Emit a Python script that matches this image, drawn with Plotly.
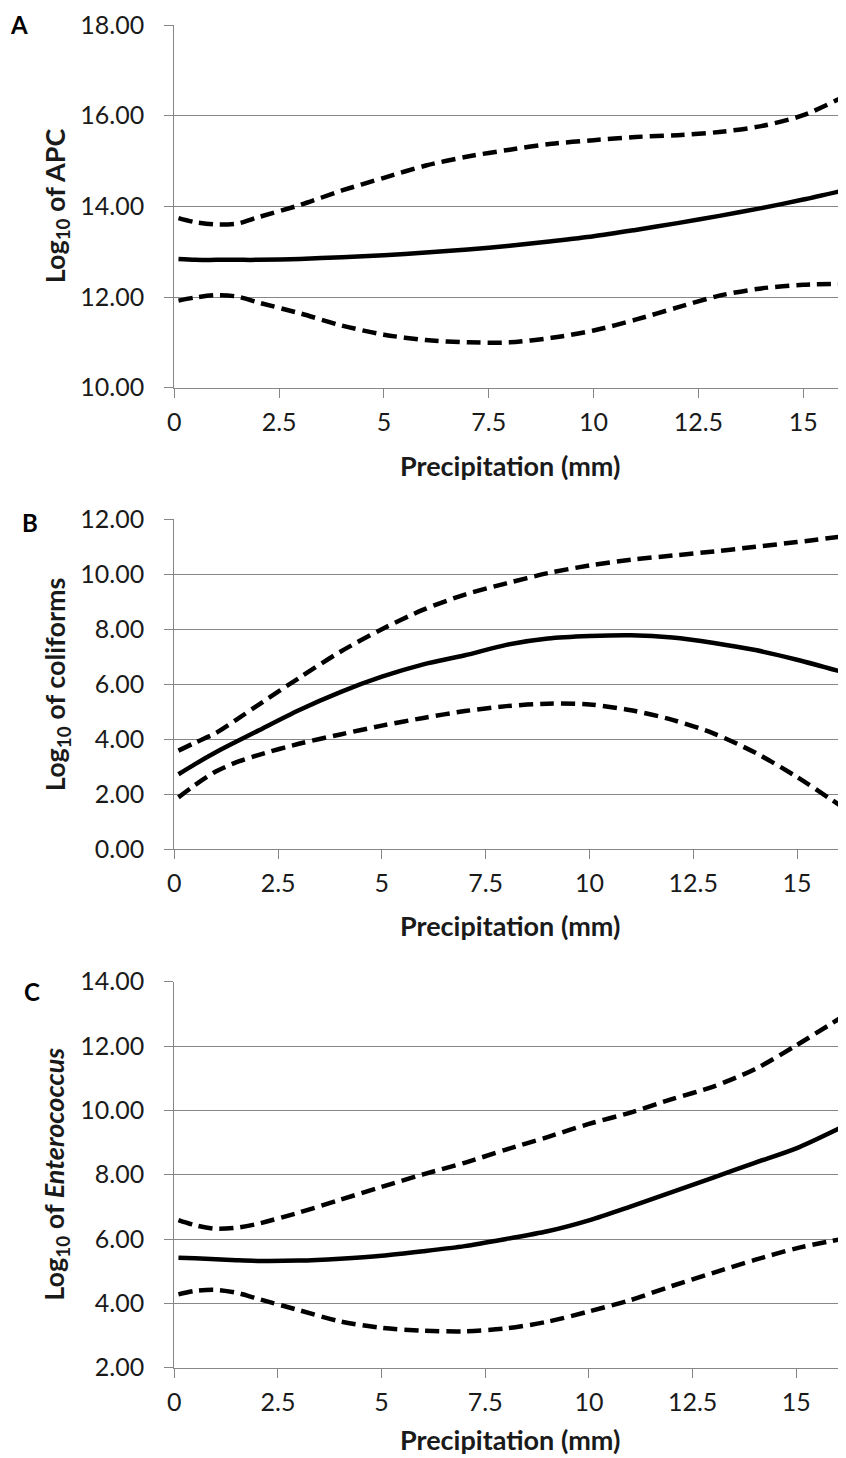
import plotly.graph_objects as go

# ---------------- data ----------------
precip = [0.1, 0.5, 1, 1.5, 2, 3, 4, 5, 6, 7, 8, 9, 10, 11, 12, 13, 14, 15, 16.1]

apc_mean = [12.84, 12.82, 12.82, 12.82, 12.82, 12.84, 12.88, 12.92, 12.98, 13.05, 13.13, 13.23, 13.34, 13.48, 13.63, 13.79, 13.96, 14.15, 14.38]
apc_upper = [13.74, 13.65, 13.60, 13.62, 13.76, 14.03, 14.35, 14.63, 14.90, 15.10, 15.25, 15.38, 15.46, 15.53, 15.57, 15.64, 15.77, 16.01, 16.48]
apc_lower = [11.92, 11.99, 12.04, 12.01, 11.88, 11.64, 11.37, 11.17, 11.05, 11.00, 11.00, 11.10, 11.26, 11.50, 11.77, 12.03, 12.19, 12.27, 12.29]

coli_mean = [2.72, 3.09, 3.52, 3.91, 4.29, 5.05, 5.71, 6.27, 6.72, 7.05, 7.43, 7.66, 7.75, 7.78, 7.70, 7.50, 7.24, 6.89, 6.44]
coli_upper = [3.58, 3.87, 4.22, 4.71, 5.22, 6.22, 7.18, 8.00, 8.71, 9.26, 9.67, 10.04, 10.32, 10.53, 10.68, 10.83, 11.00, 11.17, 11.38]
coli_lower = [1.88, 2.33, 2.82, 3.16, 3.41, 3.83, 4.17, 4.49, 4.77, 5.02, 5.20, 5.29, 5.26, 5.05, 4.70, 4.20, 3.50, 2.62, 1.52]

ent_mean = [5.42, 5.40, 5.37, 5.34, 5.32, 5.33, 5.39, 5.48, 5.62, 5.78, 6.00, 6.24, 6.58, 7.01, 7.46, 7.91, 8.37, 8.82, 9.48]
ent_upper = [6.59, 6.43, 6.32, 6.35, 6.47, 6.82, 7.22, 7.62, 8.01, 8.37, 8.78, 9.17, 9.58, 9.93, 10.35, 10.74, 11.28, 12.02, 12.90]
ent_lower = [4.28, 4.39, 4.42, 4.33, 4.15, 3.79, 3.44, 3.24, 3.15, 3.13, 3.22, 3.43, 3.75, 4.10, 4.54, 4.95, 5.35, 5.71, 6.00]

panel_letters = ["A", "B", "C"]
y_titles = ["Log<sub>10</sub> of APC", "Log<sub>10</sub> of coliforms",
            "Log<sub>10</sub> of <i>Enterococcus</i>"]
x_title = "Precipitation (mm)"
y_ranges = [[10, 18], [0, 12], [2, 14]]
x_ranges = [[0, 16.02], [0, 16.18], [0, 16.2]]

# ---------------- layout geometry (target-window pixels) ----------------
WIN_W, WIN_H = 846, 1458
OFF = 8                       # page body margin
W, H = WIN_W - OFF, WIN_H - OFF


def px_x(p):
    return (p - OFF) / W


def px_y(p):
    return 1 - (p - OFF) / H


plot_left = 174.3
plot_right = 846.0
panels_px = [(25.0, 387.7), (519.3, 849.0), (981.7, 1367.7)]  # top, bottom
xtitle_px = [465, 925, 1439]
letter_px = [(19, 25), (30, 523), (32, 991)]

GRID = "#878787"
FONT = "Lato, 'Open Sans', Arial, sans-serif"

fig = go.Figure()

series = [
    (apc_mean, apc_upper, apc_lower),
    (coli_mean, coli_upper, coli_lower),
    (ent_mean, ent_upper, ent_lower),
]

for i, (m, u, l) in enumerate(series):
    xa = "x" if i == 0 else f"x{i+1}"
    ya = "y" if i == 0 else f"y{i+1}"
    for vals, dash in ((u, "14px,7px"), (l, "14px,7px"), (m, "solid")):
        fig.add_trace(go.Scatter(
            x=precip, y=vals, mode="lines", xaxis=xa, yaxis=ya,
            line=dict(color="black", width=4.5, dash=dash, shape="spline", smoothing=0.8),
            showlegend=False, hoverinfo="skip"))

layout = dict(template="none", width=W, height=H,
              margin=dict(l=0, r=0, t=0, b=0, pad=0, autoexpand=False),
              paper_bgcolor="white", plot_bgcolor="white", showlegend=False)

annotations = []
for i in range(3):
    top, bot = panels_px[i]
    suffix = "" if i == 0 else str(i + 1)
    layout["xaxis" + suffix] = dict(
        domain=[px_x(plot_left), min(1, px_x(plot_right))], range=x_ranges[i], tick0=0, dtick=2.5,
        automargin=False,
        showgrid=False, zeroline=False, showline=True, linecolor=GRID, linewidth=1.3,
        ticks="outside", ticklen=9, tickwidth=1.3, tickcolor=GRID,
        tickfont=dict(family=FONT, size=25, color="#1a1a1a"),
        anchor="y" + suffix, ticklabelstandoff=3)
    layout["yaxis" + suffix] = dict(
        domain=[px_y(bot), px_y(top)], range=y_ranges[i], dtick=2, tickformat=".2f",
        automargin=False,
        showgrid=True, gridcolor=GRID, gridwidth=1.3, zeroline=False,
        showline=True, linecolor=GRID, linewidth=1.3,
        ticks="outside", ticklen=9, tickwidth=1.3, tickcolor=GRID,
        tickfont=dict(family=FONT, size=25, color="#1a1a1a"),
        anchor="x" + suffix, ticklabelstandoff=15)
    # x title
    annotations.append(dict(text=f"<b>{x_title}</b>", xref="paper", yref="paper",
                            x=px_x((plot_left + plot_right) / 2), y=px_y(xtitle_px[i]),
                            xanchor="center", yanchor="middle", showarrow=False,
                            font=dict(family=FONT, size=27, color="#1a1a1a")))
    # y title
    annotations.append(dict(text=f"<b>{y_titles[i]}</b>", xref="paper", yref="paper",
                            x=px_x(56), y=px_y((top + bot) / 2), textangle=-90,
                            xanchor="center", yanchor="middle", showarrow=False,
                            font=dict(family=FONT, size=27, color="#1a1a1a")))
    # panel letter
    lx, ly = letter_px[i]
    annotations.append(dict(text=f"<b>{panel_letters[i]}</b>", xref="paper", yref="paper",
                            x=px_x(lx), y=px_y(ly), xanchor="center", yanchor="middle",
                            showarrow=False, font=dict(family=FONT, size=24, color="black")))

layout["annotations"] = annotations
fig.update_layout(**layout)
fig.write_html("out.html")
